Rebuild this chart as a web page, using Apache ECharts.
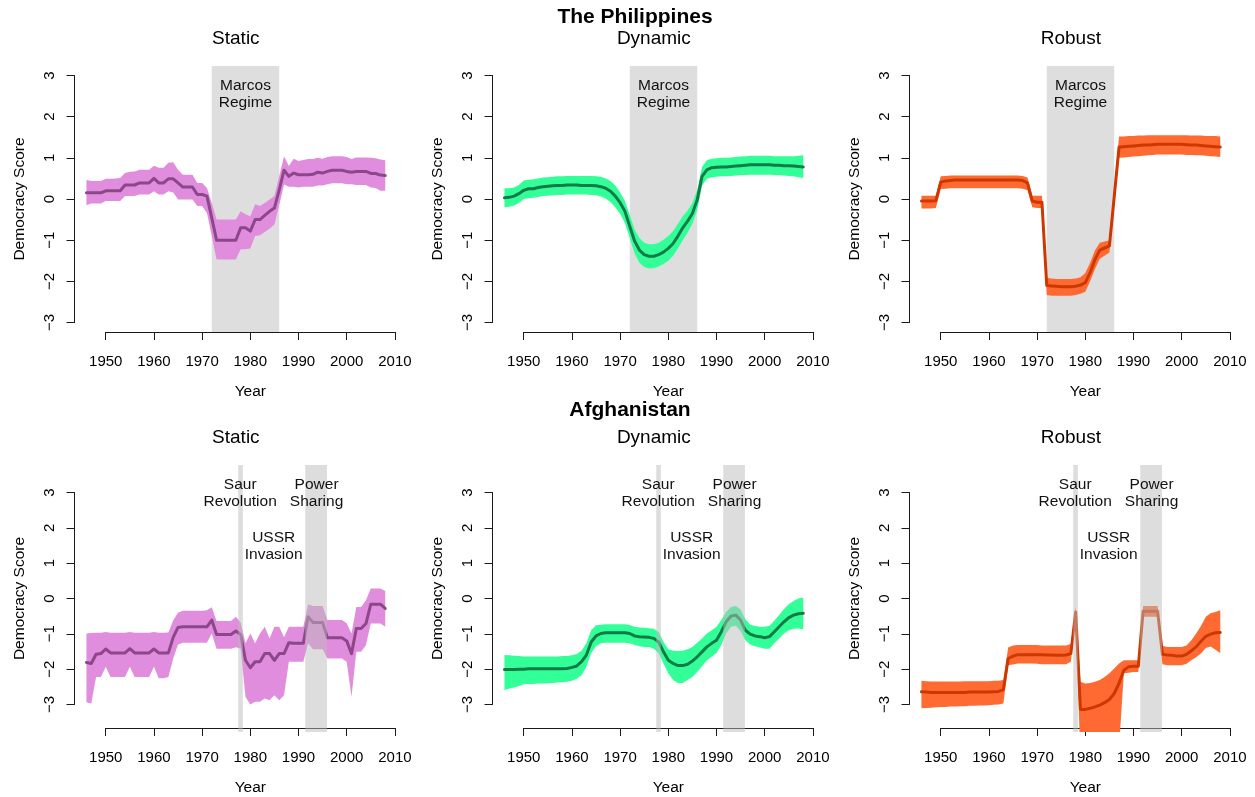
<!DOCTYPE html>
<html>
<head>
<meta charset="utf-8">
<title>Democracy Score</title>
<script src="https://cdn.jsdelivr.net/npm/echarts@6/dist/echarts.min.js"></script>
<style>
html, body { margin: 0; padding: 0; background: #fff; }
#chart { width: 1255px; height: 797px; }
</style>
</head>
<body>
<div id="chart"></div>
<script>
var years = [1946,1947,1948,1949,
  1950,1951,1952,1953,1954,1955,1956,1957,1958,1959,
  1960,1961,1962,1963,1964,1965,1966,1967,1968,1969,
  1970,1971,1972,1973,1974,1975,1976,1977,1978,1979,
  1980,1981,1982,1983,1984,1985,1986,1987,1988,1989,
  1990,1991,1992,1993,1994,1995,1996,1997,1998,1999,
  2000,2001,2002,2003,2004,2005,2006,2007,2008];

// The Philippines - static
var phStaticLine = [0.15,0.15,0.15,0.15,
  0.2,0.2,0.2,0.2,0.34,0.34,0.34,0.39,0.39,0.39,
  0.5,0.39,0.39,0.49,0.49,0.39,0.29,0.29,0.29,0.11,
  0.11,0.07,-0.46,-1.0,-1.0,-1.0,-1.0,-1.0,-0.7,-0.7,
  -0.78,-0.5,-0.5,-0.4,-0.3,-0.22,0.22,0.7,0.55,0.63,
  0.59,0.59,0.59,0.6,0.65,0.63,0.67,0.7,0.7,0.7,
  0.67,0.65,0.67,0.67,0.67,0.62,0.62,0.58,0.57];
var phStaticHi = [0.46,0.44,0.44,0.44,
  0.49,0.49,0.5,0.51,0.63,0.66,0.67,0.71,0.71,0.71,
  0.81,0.76,0.76,0.88,0.89,0.71,0.59,0.59,0.59,0.39,
  0.39,0.27,-0.1,-0.5,-0.5,-0.5,-0.5,-0.5,-0.3,-0.37,
  -0.42,-0.13,-0.17,-0.1,-0.01,0.07,0.55,1.04,0.8,0.98,
  0.92,0.95,0.97,0.97,1.0,0.98,1.02,1.04,1.04,1.04,
  1.02,0.97,1.01,1.01,1.01,1.0,0.99,0.96,0.94];
var phStaticLo = [-0.15,-0.11,-0.11,-0.11,
  -0.05,-0.05,-0.05,-0.05,0.07,0.07,0.07,0.11,0.11,0.11,
  0.19,0.11,0.11,0.19,0.16,-0.01,-0.01,-0.01,-0.01,-0.17,
  -0.17,-0.34,-0.9,-1.47,-1.47,-1.47,-1.47,-1.47,-1.22,-1.22,
  -1.2,-0.9,-0.88,-0.8,-0.72,-0.62,-0.15,0.35,0.3,0.3,
  0.28,0.3,0.3,0.3,0.33,0.33,0.36,0.38,0.38,0.38,
  0.36,0.36,0.34,0.34,0.34,0.28,0.27,0.2,0.2];

// The Philippines - dynamic
var phDynamicLine = [0.03,0.04,0.07,0.13,
  0.21,0.25,0.25,0.28,0.3,0.31,0.32,0.33,0.33,0.34,
  0.34,0.34,0.33,0.33,0.33,0.32,0.3,0.26,0.19,0.07,
  -0.09,-0.3,-0.66,-1.02,-1.24,-1.35,-1.39,-1.39,-1.35,-1.29,
  -1.2,-1.08,-0.9,-0.7,-0.54,-0.35,-0.02,0.55,0.71,0.76,
  0.77,0.78,0.78,0.79,0.8,0.81,0.82,0.83,0.83,0.83,
  0.83,0.83,0.82,0.82,0.81,0.81,0.8,0.79,0.78];
var phDynamicHi = [0.26,0.26,0.28,0.34,
  0.45,0.47,0.48,0.5,0.52,0.53,0.54,0.55,0.55,0.56,
  0.56,0.56,0.56,0.56,0.56,0.55,0.54,0.5,0.44,0.33,
  0.16,-0.05,-0.38,-0.74,-0.95,-1.06,-1.1,-1.1,-1.06,-0.99,
  -0.9,-0.78,-0.6,-0.42,-0.28,-0.1,0.22,0.78,0.94,0.98,
  0.99,1.0,1.0,1.01,1.02,1.03,1.04,1.05,1.05,1.05,
  1.05,1.05,1.04,1.04,1.04,1.04,1.04,1.05,1.06];
var phDynamicLo = [-0.2,-0.19,-0.16,-0.1,
  0.0,0.02,0.03,0.05,0.07,0.08,0.09,0.1,0.1,0.11,
  0.11,0.11,0.11,0.11,0.1,0.09,0.06,0.01,-0.07,-0.2,
  -0.36,-0.58,-0.95,-1.32,-1.55,-1.65,-1.69,-1.68,-1.64,-1.58,
  -1.5,-1.38,-1.2,-1.0,-0.82,-0.6,-0.27,0.32,0.49,0.53,
  0.54,0.55,0.55,0.56,0.57,0.58,0.58,0.59,0.59,0.59,
  0.59,0.59,0.58,0.58,0.57,0.56,0.55,0.53,0.51];

// The Philippines - robust
var phRobustLine = [-0.05,-0.05,-0.05,-0.04,
  0.41,0.44,0.45,0.46,0.46,0.46,0.46,0.46,0.46,0.46,
  0.46,0.46,0.46,0.46,0.46,0.46,0.46,0.45,0.39,-0.05,
  -0.08,-0.08,-2.1,-2.11,-2.12,-2.13,-2.13,-2.13,-2.12,-2.09,
  -2.03,-1.79,-1.47,-1.24,-1.19,-1.14,0.06,1.26,1.27,1.28,
  1.29,1.3,1.31,1.31,1.32,1.33,1.33,1.33,1.33,1.33,
  1.33,1.32,1.31,1.31,1.3,1.29,1.28,1.27,1.26];
var phRobustHi = [0.08,0.08,0.08,0.08,
  0.55,0.56,0.57,0.57,0.57,0.57,0.57,0.57,0.57,0.57,
  0.57,0.57,0.57,0.57,0.57,0.57,0.57,0.56,0.52,0.08,
  0.08,0.08,-1.91,-1.93,-1.94,-1.94,-1.94,-1.94,-1.93,-1.9,
  -1.8,-1.55,-1.25,-1.06,-1.03,-1.01,0.26,1.52,1.52,1.53,
  1.53,1.54,1.54,1.55,1.55,1.55,1.55,1.55,1.55,1.55,
  1.55,1.55,1.54,1.54,1.54,1.53,1.53,1.53,1.52];
var phRobustLo = [-0.23,-0.23,-0.23,-0.22,
  0.24,0.25,0.26,0.26,0.26,0.26,0.26,0.26,0.26,0.26,
  0.26,0.26,0.26,0.26,0.26,0.26,0.26,0.25,0.21,-0.2,
  -0.22,-0.22,-2.33,-2.35,-2.35,-2.35,-2.35,-2.35,-2.33,-2.3,
  -2.25,-2.0,-1.7,-1.45,-1.38,-1.3,-0.15,1.0,1.01,1.02,
  1.03,1.04,1.05,1.06,1.07,1.08,1.08,1.08,1.08,1.08,
  1.08,1.07,1.07,1.06,1.06,1.05,1.04,1.03,1.02];

// Afghanistan - static
var afStaticLine = [-1.81,-1.84,-1.58,-1.56,
  -1.43,-1.54,-1.54,-1.54,-1.54,-1.42,-1.54,-1.54,-1.54,-1.54,
  -1.43,-1.54,-1.54,-1.54,-1.1,-0.82,-0.8,-0.8,-0.8,-0.8,
  -0.8,-0.8,-0.61,-1.02,-1.02,-1.02,-1.02,-0.92,-1.02,-1.75,
  -1.96,-1.79,-1.79,-1.56,-1.56,-1.75,-1.56,-1.56,-1.25,-1.27,
  -1.27,-1.27,-0.52,-0.68,-0.68,-0.68,-1.11,-1.11,-1.11,-1.11,
  -1.2,-1.56,-0.85,-0.85,-0.71,-0.16,-0.16,-0.16,-0.28];
var afStaticHi = [-0.99,-0.98,-0.97,-0.97,
  -0.95,-0.97,-0.97,-0.97,-0.97,-0.95,-0.97,-0.97,-0.97,-0.97,
  -0.95,-0.97,-0.97,-0.96,-0.62,-0.4,-0.35,-0.35,-0.35,-0.35,
  -0.35,-0.33,-0.25,-0.64,-0.64,-0.64,-0.64,-0.52,-0.68,-1.27,
  -0.99,-1.27,-0.99,-0.8,-1.13,-0.8,-0.8,-1.1,-0.8,-0.8,
  -0.8,-0.8,-0.16,-0.21,-0.21,-0.21,-0.61,-0.61,-0.61,-0.61,
  -0.7,-0.99,-0.24,-0.24,-0.05,0.28,0.28,0.28,0.21];
var afStaticLo = [-2.94,-2.97,-2.22,-2.22,
  -1.93,-2.22,-2.22,-2.22,-2.22,-1.93,-2.22,-2.22,-2.22,-2.22,
  -1.93,-2.26,-2.26,-2.22,-1.7,-1.3,-1.25,-1.25,-1.25,-1.25,
  -1.25,-1.25,-0.99,-1.42,-1.42,-1.42,-1.42,-1.38,-1.42,-2.78,
  -3.0,-2.92,-2.92,-2.83,-2.88,-2.74,-2.88,-2.74,-1.79,-1.79,
  -1.79,-1.79,-1.27,-1.44,-1.44,-1.44,-1.7,-1.7,-1.7,-1.7,
  -1.79,-2.78,-1.51,-1.51,-1.32,-0.71,-0.71,-0.71,-0.8];

// Afghanistan - dynamic
var afDynamicLine = [-2.01,-2.01,-2.01,-2.0,
  -2.0,-1.99,-1.99,-1.99,-1.99,-1.99,-1.99,-1.99,-1.99,-1.98,
  -1.95,-1.91,-1.79,-1.6,-1.23,-1.06,-0.99,-0.97,-0.97,-0.97,
  -0.97,-0.97,-0.99,-1.06,-1.08,-1.09,-1.1,-1.13,-1.23,-1.51,
  -1.75,-1.84,-1.9,-1.9,-1.86,-1.77,-1.65,-1.51,-1.37,-1.27,
  -1.18,-0.94,-0.66,-0.5,-0.47,-0.61,-0.9,-1.01,-1.06,-1.08,
  -1.11,-1.08,-0.94,-0.8,-0.66,-0.54,-0.47,-0.43,-0.42];
var afDynamicHi = [-1.6,-1.61,-1.62,-1.63,
  -1.64,-1.64,-1.64,-1.64,-1.64,-1.64,-1.64,-1.64,-1.63,-1.63,
  -1.61,-1.57,-1.48,-1.27,-0.9,-0.76,-0.74,-0.73,-0.73,-0.73,
  -0.73,-0.73,-0.75,-0.8,-0.82,-0.83,-0.84,-0.86,-0.95,-1.23,
  -1.44,-1.48,-1.49,-1.48,-1.44,-1.37,-1.25,-1.13,-0.99,-0.9,
  -0.8,-0.61,-0.38,-0.24,-0.21,-0.31,-0.59,-0.74,-0.78,-0.8,
  -0.8,-0.77,-0.63,-0.47,-0.3,-0.16,-0.07,0.0,0.03];
var afDynamicLo = [-2.59,-2.55,-2.52,-2.48,
  -2.43,-2.42,-2.42,-2.41,-2.41,-2.4,-2.39,-2.38,-2.37,-2.36,
  -2.33,-2.27,-2.17,-1.93,-1.54,-1.35,-1.27,-1.25,-1.25,-1.25,
  -1.25,-1.25,-1.27,-1.32,-1.35,-1.37,-1.37,-1.42,-1.55,-1.84,
  -2.12,-2.31,-2.39,-2.39,-2.31,-2.22,-2.08,-1.92,-1.75,-1.65,
  -1.54,-1.32,-0.99,-0.8,-0.77,-0.92,-1.18,-1.3,-1.35,-1.39,
  -1.42,-1.42,-1.27,-1.13,-0.99,-0.9,-0.86,-0.85,-0.87];

// Afghanistan - robust
var afRobustLine = [-2.64,-2.65,-2.66,-2.66,
  -2.66,-2.66,-2.66,-2.66,-2.66,-2.66,-2.65,-2.65,-2.65,-2.65,
  -2.65,-2.64,-2.63,-2.58,-1.7,-1.63,-1.59,-1.59,-1.59,-1.59,
  -1.59,-1.59,-1.6,-1.6,-1.61,-1.61,-1.6,-1.56,-0.38,-3.14,
  -3.14,-3.11,-3.07,-3.02,-2.95,-2.86,-2.69,-2.4,-2.03,-1.93,
  -1.92,-1.92,-0.36,-0.36,-0.36,-0.36,-1.58,-1.6,-1.61,-1.63,
  -1.63,-1.58,-1.48,-1.37,-1.21,-1.07,-1.01,-0.97,-0.96];
var afRobustHi = [-2.33,-2.34,-2.35,-2.35,
  -2.35,-2.35,-2.35,-2.35,-2.35,-2.34,-2.34,-2.34,-2.34,-2.34,
  -2.34,-2.33,-2.33,-2.31,-1.39,-1.33,-1.32,-1.32,-1.32,-1.32,
  -1.32,-1.33,-1.33,-1.33,-1.33,-1.33,-1.33,-1.29,-0.24,-2.36,
  -2.41,-2.39,-2.36,-2.31,-2.22,-2.12,-1.98,-1.84,-1.75,-1.75,
  -1.75,-1.75,-0.21,-0.21,-0.21,-0.21,-1.34,-1.37,-1.37,-1.37,
  -1.37,-1.33,-1.18,-0.99,-0.78,-0.52,-0.42,-0.38,-0.33];
var afRobustLo = [-3.11,-3.1,-3.09,-3.08,
  -3.07,-3.07,-3.06,-3.06,-3.05,-3.05,-3.04,-3.04,-3.03,-3.03,
  -3.02,-3.01,-3.0,-2.97,-1.89,-1.87,-1.84,-1.84,-1.84,-1.84,
  -1.85,-1.86,-1.86,-1.86,-1.86,-1.86,-1.86,-1.79,-0.52,-4.6,
  -4.6,-4.6,-4.6,-4.6,-4.6,-4.6,-4.6,-4.2,-2.12,-2.1,
  -2.08,-2.08,-0.52,-0.52,-0.52,-0.52,-1.86,-1.89,-1.89,-1.89,
  -1.89,-1.85,-1.75,-1.66,-1.56,-1.4,-1.36,-1.45,-1.54];

// shaded periods and their notes
var phEvents = [[1972, 1986]];
var afEvents = [[1977.5, 1978.45], [1991.4, 1995.9]];
var phNotes = [[1979, 2.55, 'Marcos\nRegime']];
var afNotes = [[1977.9, 2.98, 'Saur\nRevolution'], [1993.75, 2.98, 'Power\nSharing'], [1984.85, 1.48, 'USSR\nInvasion']];

var myChart = echarts.init(document.getElementById('chart'));

var FONT = '"Liberation Sans", Arial, Helvetica, sans-serif';
var xMin = 1943.52, xMax = 2010.48;
var colLeft = [74.5, 492.5, 909.5];
var plotW = 322.7;
var rows = [
  {top: 66, height: 266, min: -3.23, max: 3.23, country: 'The Philippines', countryX: 635, countryTop: 7, subTop: 29,
   events: phEvents, notes: phNotes, shade: '#dedede', shadeZ: 1},
  {top: 465, height: 267, min: -3.78, max: 3.78, country: 'Afghanistan', countryX: 630, countryTop: 400, subTop: 428,
   events: afEvents, notes: afNotes, shade: 'rgba(188,188,188,0.5)', shadeZ: 5}
];

var panels = [
  {row: 0, col: 0, name: 'Static',  line: phStaticLine,  hi: phStaticHi,  lo: phStaticLo,  fill: '#E18DDE', stroke: '#8B4789'},
  {row: 0, col: 1, name: 'Dynamic', line: phDynamicLine, hi: phDynamicHi, lo: phDynamicLo, fill: '#33FF99', stroke: '#117A47'},
  {row: 0, col: 2, name: 'Robust',  line: phRobustLine,  hi: phRobustHi,  lo: phRobustLo,  fill: '#FF6A33', stroke: '#CD3700'},
  {row: 1, col: 0, name: 'Static',  line: afStaticLine,  hi: afStaticHi,  lo: afStaticLo,  fill: '#E18DDE', stroke: '#8B4789'},
  {row: 1, col: 1, name: 'Dynamic', line: afDynamicLine, hi: afDynamicHi, lo: afDynamicLo, fill: '#33FF99', stroke: '#117A47'},
  {row: 1, col: 2, name: 'Robust',  line: afRobustLine,  hi: afRobustHi,  lo: afRobustLo,  fill: '#FF6A33', stroke: '#CD3700'}
];

var axisColor = '#1a1a1a';
var option = {
  backgroundColor: '#fff',
  animation: false,
  title: [],
  grid: [],
  xAxis: [],
  yAxis: [],
  series: []
};

rows.forEach(function (r) {
  option.title.push({
    text: r.country, left: r.countryX, top: r.countryTop, textAlign: 'center', padding: 0,
    textStyle: {fontSize: 21, fontWeight: 'bold', color: '#000', fontFamily: FONT}
  });
});

panels.forEach(function (p, i) {
  var r = rows[p.row];
  var L = colLeft[p.col];
  var span = r.max - r.min;
  var g = i * 3;

  option.title.push({
    text: p.name, left: L + plotW / 2, top: r.subTop, textAlign: 'center', padding: 0,
    textStyle: {fontSize: 19, fontWeight: 'normal', color: '#000', fontFamily: FONT}
  });

  // plot region
  option.grid.push({left: L, top: r.top, width: plotW, height: r.height});
  // y axis from -3 to 3
  option.grid.push({left: L, top: r.top + (r.max - 3) / span * r.height, width: 1, height: 6 / span * r.height});
  // x axis from 1950 to 2010
  option.grid.push({left: L + (1950 - xMin) / (xMax - xMin) * plotW, top: r.top,
                    width: 60 / (xMax - xMin) * plotW, height: r.height});

  option.xAxis.push({gridIndex: g, type: 'value', min: xMin, max: xMax, show: false});
  option.yAxis.push({gridIndex: g, type: 'value', min: r.min, max: r.max, show: false});

  option.xAxis.push({gridIndex: g + 1, type: 'value', show: false});
  option.yAxis.push({
    gridIndex: g + 1, type: 'value', min: -3, max: 3, interval: 1,
    axisLine: {show: true, lineStyle: {color: axisColor, width: 1}},
    axisTick: {show: true, length: 8, lineStyle: {color: axisColor, width: 1}},
    splitLine: {show: false},
    axisLabel: {rotate: 90, margin: 17, fontSize: 15, color: '#000', fontFamily: FONT,
      formatter: function (v) { return v < 0 ? '\u2212' + Math.abs(v) : String(v); }},
    name: 'Democracy Score', nameLocation: 'middle', nameGap: 47,
    nameTextStyle: {fontSize: 15.5, color: '#000', fontFamily: FONT}
  });

  option.xAxis.push({
    gridIndex: g + 2, type: 'value', min: 1950, max: 2010, interval: 10, position: 'bottom',
    axisLine: {show: true, onZero: false, lineStyle: {color: axisColor, width: 1}},
    axisTick: {show: true, length: 8, lineStyle: {color: axisColor, width: 1}},
    splitLine: {show: false},
    axisLabel: {margin: 22, fontSize: 15, color: '#000', fontFamily: FONT,
      formatter: function (v) { return String(v); }},
    name: 'Year', nameLocation: 'middle', nameGap: 52,
    nameTextStyle: {fontSize: 15.5, color: '#000', fontFamily: FONT}
  });
  option.yAxis.push({gridIndex: g + 2, type: 'value', show: false});

  // shaded periods
  option.series.push({
    type: 'custom', xAxisIndex: g, yAxisIndex: g, z: r.shadeZ, silent: true, clip: true,
    data: r.events,
    encode: {x: [0, 1]},
    renderItem: function (params, api) {
      var cs = params.coordSys;
      var x0 = api.coord([api.value(0), 0])[0];
      var x1 = api.coord([api.value(1), 0])[0];
      return {type: 'rect', shape: {x: x0, y: cs.y, width: x1 - x0, height: cs.height},
              style: {fill: r.shade}};
    }
  });

  // uncertainty band
  option.series.push({
    type: 'custom', xAxisIndex: g, yAxisIndex: g, z: 2, silent: true, clip: true,
    data: years.map(function (y, k) { return [y, p.lo[k], p.hi[k]]; }),
    encode: {x: 0, y: [1, 2]},
    renderItem: function (params, api) {
      if (params.dataIndex !== 0) return null;
      var pts = [];
      for (var k = 0; k < years.length; k++) pts.push(api.coord([years[k], p.hi[k]]));
      for (var k2 = years.length - 1; k2 >= 0; k2--) pts.push(api.coord([years[k2], p.lo[k2]]));
      return {type: 'polygon', shape: {points: pts}, style: {fill: p.fill}};
    }
  });

  // estimate line
  option.series.push({
    type: 'line', xAxisIndex: g, yAxisIndex: g, z: 3, silent: true,
    showSymbol: false, symbol: 'none',
    data: years.map(function (y, k) { return [y, p.line[k]]; }),
    lineStyle: {width: 3, color: p.stroke, join: 'round', cap: 'round'}
  });

  // notes
  option.series.push({
    type: 'custom', xAxisIndex: g, yAxisIndex: g, z: 10, silent: true,
    data: r.notes,
    encode: {x: 0, y: 1},
    renderItem: function (params, api) {
      var pt = api.coord([api.value(0), api.value(1)]);
      return {type: 'text', x: pt[0], y: pt[1],
              style: {text: r.notes[params.dataIndex][2], align: 'center', verticalAlign: 'middle',
                      fontSize: 15.5, fontFamily: FONT, fill: '#111', lineHeight: 17.5}};
    }
  });
});

myChart.setOption(option);
</script>
</body>
</html>
